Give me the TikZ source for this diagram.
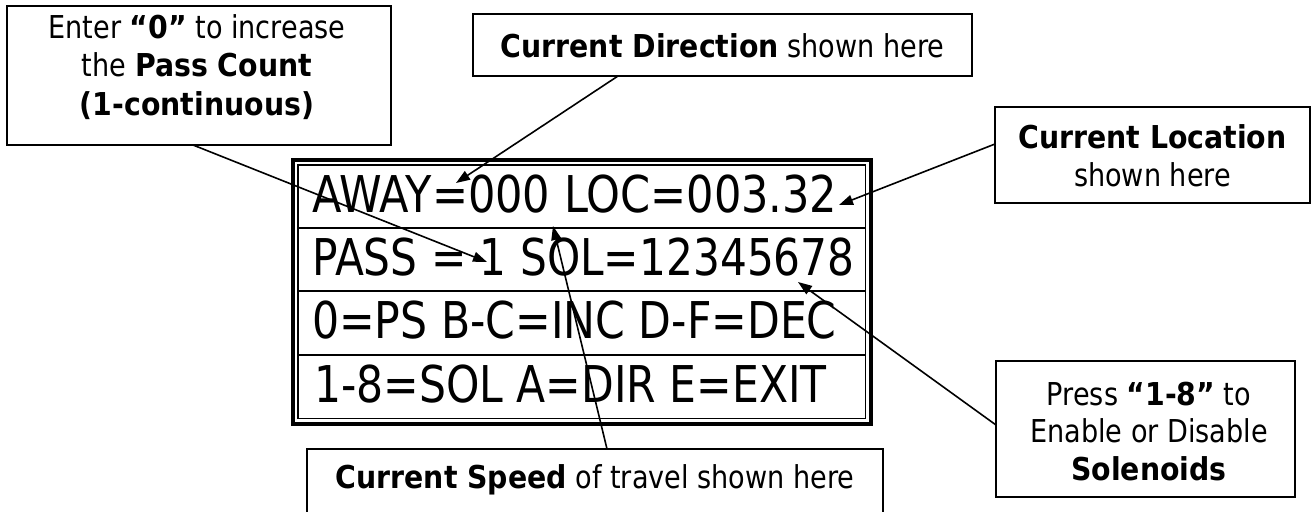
\documentclass[tikz,border=0pt]{standalone}
\usepackage{graphicx}
\usepackage{fontspec}
\setmainfont{DejaVu Sans}[FakeStretch=0.86]
\newfontfamily\bfam{DejaVu Sans Bold}[FakeStretch=0.9]
\newfontfamily\lcdfont{DejaVu Sans}[FakeStretch=0.83]
\newcommand\bt[1]{{\bfam #1}}
\usetikzlibrary{arrows.meta,calc}
\begin{document}
\begin{tikzpicture}[x=1pt,y=-1pt,
  frame/.style={draw, line width=1.5pt, inner sep=0pt},
  ctext/.style={anchor=base, inner sep=0pt, font=\fontsize{31.5}{37.5}\selectfont},
  rowtext/.style={anchor=base west, inner sep=0pt, font=\lcdfont\fontsize{50.7}{50}\selectfont},
  conn/.style={line width=1.6pt, -{Triangle[length=14pt,width=10pt]}},
  sep/.style={line width=2pt}
]
\useasboundingbox (0,0) rectangle (1316,511);

% callout frames
\node[frame, minimum width=384pt, minimum height=139pt] (b1) at (199,75.5) {};
\node[frame, minimum width=499pt, minimum height=62pt] (b2) at (722.5,45) {};
\node[frame, minimum width=315pt, minimum height=96pt] (b3) at (1152.5,155) {};
\node[frame, minimum width=299pt, minimum height=136pt] (b4) at (1145.5,429) {};
\node[frame, minimum width=576pt, minimum height=64pt] (b5) at (595,481) {};

% callout texts
\node[ctext] (b1a) at (197,39) {Enter \bt{“0”} to increase};
\node[ctext] (b1b) at (197,77) {the \bt{Pass Count}};
\node[ctext] (b1c) at (197,115) {\bt{(1-continuous)}};
\node[ctext] (b2a) at (722.5,57) {\bt{Current Direction} shown here};
\node[ctext] (b3a) at (1152.5,148) {\bt{Current Location}};
\node[ctext] (b3b) at (1152.5,186) {shown here};
\node[ctext] (b4a) at (1149,405) {Press \bt{“1-8”} to};
\node[ctext] (b4b) at (1149,442.5) {Enable or Disable};
\node[ctext] (b4c) at (1149,480) {\bt{Solenoids}};
\node[ctext] (b5a) at (595,488) {\bt{Current Speed} of travel shown here};

% display
\draw[line width=4pt] (293,160) rectangle (871,423.5);
\draw[line width=1.5pt] (298,165) rectangle (865.5,418.5);
\draw[sep] (298,228) -- (865.5,228);
\draw[sep] (298,291) -- (865.5,291);
\draw[sep] (298,355) -- (865.5,355);

\node[rowtext] (r1) at (312,212) {\scalebox{1.024}[1]{AWAY=000 LOC=003.32}};
\node[rowtext] (r2) at (312,275) {\scalebox{1.005}[1]{PASS = 1 SOL=12345678}};
\node[rowtext] (r3) at (312,338.5) {\scalebox{1.012}[1]{0=PS B-C=INC D-F=DEC}};
\node[rowtext] (r4) at (314,402.5) {\scalebox{1.01}[1]{1-8=SOL A=DIR E=EXIT}};

% connector end points
\coordinate (s1) at (193,145);
\coordinate (t1) at (487,262);
\coordinate (s2) at (618,76);
\coordinate (t2) at (456,183);
\coordinate (s3) at (995,144);
\coordinate (t3) at (839,205);
\coordinate (s4) at (996,425);
\coordinate (t4) at (798,282);
\coordinate (s5) at (607,449);
\coordinate (t5) at (553,226);

\draw[conn] (s1) -- (t1);
\draw[conn] (s2) -- (t2);
\draw[conn] (s3) -- (t3);
\draw[conn] (s4) -- (t4);
\draw[conn] (s5) -- (t5);
\end{tikzpicture}
\end{document}
